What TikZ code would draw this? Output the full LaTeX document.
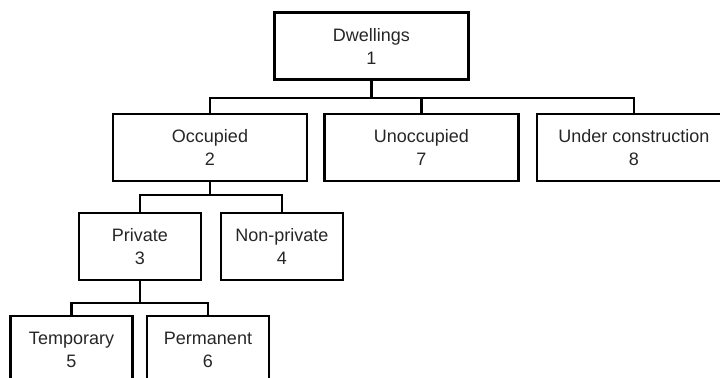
\documentclass[tikz,border=0pt]{standalone}
\usepackage{fontspec}
\setmainfont{Liberation Sans}
\usepackage{tikz}
\tikzset{
  cat/.style={draw,line width=1.3pt,align=center,inner sep=0pt,
    font=\fontsize{9}{11.5}\selectfont,text=black!85,minimum height=33.5pt},
  wide/.style={cat,minimum width=97pt},
  narrow/.style={cat,minimum width=61pt},
  tree/.style={line width=1.3pt}
}
\begin{document}
\begin{tikzpicture}[x=0.5pt,y=-0.5pt]
  \useasboundingbox (0,0) rectangle (720,378);
  \clip (0,0) rectangle (720,378);
  % boxes
  \node[wide] (dwell) at (371.5,46) {Dwellings\\1};
  \node[wide] (occ) at (210,147.5) {Occupied\\2};
  \node[wide] (unocc) at (421.5,147.5) {Unoccupied\\7};
  \node[wide] (under) at (634,147.5) {Under construction\\8};
  \node[narrow] (priv) at (140,246.5) {Private\\3};
  \node[narrow] (nonpriv) at (282,246.5) {Non-private\\4};
  \node[narrow] (temp) at (71.5,349.5) {Temporary\\5};
  \node[narrow] (perm) at (208,349.5) {Permanent\\6};
  % branches
  \coordinate (bus1) at (0,98);
  \coordinate (bus2) at (0,195);
  \coordinate (bus3) at (0,303);
  \foreach \c in {occ,unocc,under}
    \draw[tree] (dwell.south) -- (dwell.south |- bus1) -| (\c.north);
  \foreach \c in {priv,nonpriv}
    \draw[tree] (occ.south) -- (occ.south |- bus2) -| (\c.north);
  \foreach \c in {temp,perm}
    \draw[tree] (priv.south) -- (priv.south |- bus3) -| (\c.north);
\end{tikzpicture}
\end{document}
